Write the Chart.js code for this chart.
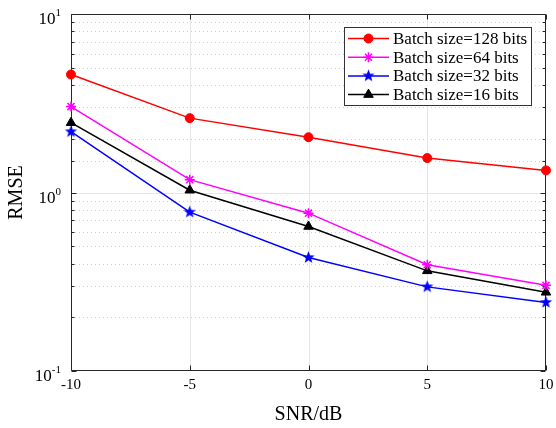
<!DOCTYPE html>
<html>
<head>
<meta charset="utf-8">
<script src="https://cdn.jsdelivr.net/npm/chart.js@4/dist/chart.umd.min.js"></script>
<style>
  html, body { margin: 0; padding: 0; background: #fff; overflow: hidden; }
</style>
</head>
<body>
<canvas id="rmseChart" width="556" height="428"></canvas>
<script>
// --- DATA ---
const snr = [-10, -5, 0, 5, 10];
const rmse128 = [4.58, 2.61, 2.04, 1.56, 1.33];
const rmse64 = [3.03, 1.18, 0.766, 0.394, 0.302];
const rmse32 = [2.19, 0.776, 0.432, 0.296, 0.242];
const rmse16 = [2.46, 1.03, 0.645, 0.364, 0.276];
const seriesNames = ['Batch size=128 bits', 'Batch size=64 bits', 'Batch size=32 bits', 'Batch size=16 bits'];
const yDecades = [0.1, 1, 10];
const yExponents = ['-1', '0', '1'];

const SERIF = '"Liberation Serif", "Times New Roman", serif';
const AXIS = '#262626';

// filled five-point star (matlab 'p' marker)
function makeStar(color, outer, inner) {
  const c = document.createElement('canvas');
  const s = Math.ceil(outer * 2 + 2);
  c.width = s; c.height = s;
  const g = c.getContext('2d');
  g.beginPath();
  for (let i = 0; i < 10; i++) {
    const r = i % 2 === 0 ? outer : inner;
    const a = -Math.PI / 2 + i * Math.PI / 5;
    g.lineTo(s / 2 + r * Math.cos(a), s / 2 + r * Math.sin(a));
  }
  g.closePath();
  g.fillStyle = color;
  g.fill();
  return c;
}
const blueStar = makeStar('#0000ff', 6.5, 2.7);

function pts(vals) {
  return snr.map((x, i) => ({ x: x, y: vals[i] }));
}

function isDecade(v) {
  const l = Math.log10(v);
  return Math.abs(l - Math.round(l)) < 1e-9;
}

// --- GRID, AXIS BOX, TICK LABELS, LEGEND ---
const matlabLook = {
  id: 'matlabLook',
  beforeDatasetsDraw(chart) {
    const { ctx, chartArea: a, scales: { x, y } } = chart;
    ctx.save();
    ctx.lineWidth = 1;
    // horizontal grid
    y.ticks.forEach(t => {
      const v = t.value;
      if (v <= 0.1 + 1e-9 || v >= 10 - 1e-9) return;
      const py = Math.round(y.getPixelForValue(v)) + 0.5;
      ctx.beginPath();
      if (isDecade(v)) {
        ctx.setLineDash([]);
        ctx.strokeStyle = '#e6e6e6';
      } else {
        ctx.setLineDash([1, 3]);
        ctx.strokeStyle = '#cfcfcf';
      }
      ctx.moveTo(a.left, py);
      ctx.lineTo(a.right, py);
      ctx.stroke();
    });
    // vertical grid
    ctx.setLineDash([]);
    ctx.strokeStyle = '#e6e6e6';
    x.ticks.forEach(t => {
      if (t.value <= -10 || t.value >= 10) return;
      const px = Math.round(x.getPixelForValue(t.value)) + 0.5;
      ctx.beginPath();
      ctx.moveTo(px, a.top);
      ctx.lineTo(px, a.bottom);
      ctx.stroke();
    });
    // box
    ctx.strokeStyle = AXIS;
    const l = Math.round(a.left) + 0.5, r = Math.round(a.right) - 0.5;
    const tp = Math.round(a.top) + 0.5, bt = Math.round(a.bottom) - 0.5;
    ctx.beginPath();
    ctx.moveTo(l, tp); ctx.lineTo(r, tp); ctx.lineTo(r, bt); ctx.lineTo(l, bt); ctx.closePath();
    ctx.stroke();
    // inward tick marks
    ctx.beginPath();
    y.ticks.forEach(t => {
      const py = Math.round(y.getPixelForValue(t.value)) + 0.5;
      const len = isDecade(t.value) ? 5 : 3;
      ctx.moveTo(l, py); ctx.lineTo(l + len, py);
      ctx.moveTo(r, py); ctx.lineTo(r - len, py);
    });
    x.ticks.forEach(t => {
      const px = Math.round(x.getPixelForValue(t.value)) + 0.5;
      ctx.moveTo(px, bt); ctx.lineTo(px, bt - 5);
      ctx.moveTo(px, tp); ctx.lineTo(px, tp + 5);
    });
    ctx.stroke();
    ctx.restore();
  },
  afterDraw(chart) {
    const { ctx, scales: { y } } = chart;
    ctx.save();
    ctx.fillStyle = '#000';
    ctx.textBaseline = 'alphabetic';
    // y tick labels 10^n
    yDecades.forEach((v, i) => {
      const py = y.getPixelForValue(v);
      ctx.font = '11px ' + SERIF;
      const ew = ctx.measureText(yExponents[i]).width;
      const right = 61;
      ctx.textAlign = 'left';
      ctx.fillText(yExponents[i], right - ew, py + 2);
      ctx.font = '17px ' + SERIF;
      ctx.textAlign = 'right';
      ctx.fillText('10', right - ew, py + 10);
    });
    // legend
    const bx = 344, by = 27, bw = 188, bh = 79;
    ctx.fillStyle = '#fff';
    ctx.fillRect(bx, by, bw, bh);
    ctx.strokeStyle = '#333';
    ctx.lineWidth = 1;
    ctx.strokeRect(bx + 0.5, by + 0.5, bw - 1, bh - 1);
    chart.data.datasets.forEach((ds, i) => {
      const cy = 38.5 + i * 18.7;
      ctx.strokeStyle = ds.borderColor;
      ctx.lineWidth = ds.borderWidth;
      ctx.beginPath();
      ctx.moveTo(348, cy);
      ctx.lineTo(389, cy);
      ctx.stroke();
      ctx.fillStyle = ds.pointBackgroundColor;
      ctx.strokeStyle = ds.pointBorderColor;
      ctx.lineWidth = ds.pointBorderWidth;
      Chart.helpers.drawPoint(ctx, {
        pointStyle: ds.pointStyle, radius: ds.pointRadius,
        rotation: 0, borderWidth: ds.pointBorderWidth
      }, 368.5, cy);
      ctx.fillStyle = '#000';
      ctx.font = '17px ' + SERIF;
      ctx.textAlign = 'left';
      ctx.textBaseline = 'middle';
      ctx.fillText(seriesNames[i], 393, cy + 1);
    });
    ctx.restore();
  }
};

// --- CHART ---
const ctx = document.getElementById('rmseChart');
const rmseChart = new Chart(ctx, {
  type: 'line',
  data: {
    datasets: [{
      label: seriesNames[0],
      data: pts(rmse128),
      borderColor: '#ff0000',
      borderWidth: 1.5,
      pointStyle: 'circle',
      pointRadius: 4.5,
      pointBackgroundColor: '#ff0000',
      pointBorderColor: '#ff0000',
      pointBorderWidth: 1
    }, {
      label: seriesNames[1],
      data: pts(rmse64),
      borderColor: '#ff00ff',
      borderWidth: 1.5,
      pointStyle: 'star',
      pointRadius: 5,
      pointBackgroundColor: '#ff00ff',
      pointBorderColor: '#ff00ff',
      pointBorderWidth: 1.5
    }, {
      label: seriesNames[2],
      data: pts(rmse32),
      borderColor: '#0000ff',
      borderWidth: 1.5,
      pointStyle: blueStar,
      pointRadius: 6,
      pointBackgroundColor: '#0000ff',
      pointBorderColor: '#0000ff',
      pointBorderWidth: 1
    }, {
      label: seriesNames[3],
      data: pts(rmse16),
      borderColor: '#000000',
      borderWidth: 1.5,
      pointStyle: 'triangle',
      pointRadius: 5.5,
      pointBackgroundColor: '#000000',
      pointBorderColor: '#000000',
      pointBorderWidth: 1
    }]
  },
  options: {
    responsive: false,
    animation: false,
    events: [],
    clip: false,
    layout: { padding: { top: 14, right: 10, left: 0, bottom: 0 } },
    plugins: {
      legend: { display: false },
      tooltip: { enabled: false }
    },
    elements: { line: { tension: 0 } },
    scales: {
      x: {
        type: 'linear',
        min: -10,
        max: 10,
        grid: { display: false, drawTicks: false },
        border: { display: false },
        ticks: {
          stepSize: 5,
          padding: 5,
          color: '#000',
          font: { family: SERIF, size: 15 },
          maxRotation: 0
        },
        title: {
          display: true,
          text: 'SNR/dB',
          color: '#000',
          font: { family: SERIF, size: 20 },
          padding: { top: 0, bottom: 1 }
        },
        afterFit(scale) {
          scale.height = 57;
          scale.paddingLeft = 0;
          scale.paddingRight = 0;
        }
      },
      y: {
        type: 'logarithmic',
        min: 0.1,
        max: 10,
        grid: { display: false, drawTicks: false },
        border: { display: false },
        ticks: { display: false, autoSkip: false },
        title: {
          display: true,
          text: 'RMSE',
          color: '#000',
          font: { family: SERIF, size: 20 },
          padding: { top: 5, bottom: 0 }
        },
        afterFit(scale) {
          scale.width = 71;
          scale.paddingTop = 0;
          scale.paddingBottom = 0;
        }
      }
    }
  },
  plugins: [matlabLook]
});
</script>
</body>
</html>
